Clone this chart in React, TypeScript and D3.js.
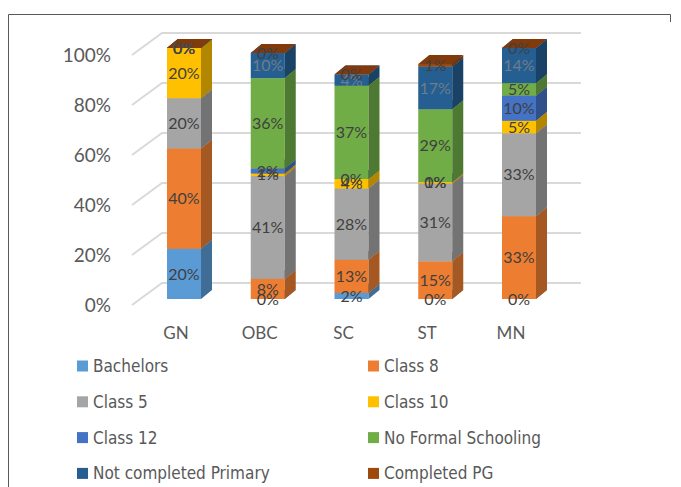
import React from "react";
import * as d3 from "d3";

const categories = ["GN", "OBC", "SC", "ST", "MN"];
const seriesNames = [
  "Bachelors",
  "Class 8",
  "Class 5",
  "Class 10",
  "Class 12",
  "No Formal Schooling",
  "Not completed Primary",
  "Completed PG",
];
const bachelors = [20, 0, 2.4, 0, 0];
const class8 = [40, 8, 13.2, 15, 33];
const class5 = [20, 41, 28.4, 31, 33];
const class10 = [20, 1, 3.8, 0.6, 5];
const class12 = [0, 2, 0, 0, 10];
const noFormal = [0, 36, 37.2, 29, 5];
const notCompleted = [0, 10, 4.4, 17, 14];
const completedPG = [0, 0, 0, 1, 0];
const labels = [
  ["20%", "0%", "2%", "0%", "0%"],
  ["40%", "8%", "13%", "15%", "33%"],
  ["20%", "41%", "28%", "31%", "33%"],
  ["20%", "1%", "4%", "1%", "5%"],
  ["0%", "2%", "0%", "0%", "10%"],
  ["0%", "36%", "37%", "29%", "5%"],
  ["0%", "10%", "4%", "17%", "14%"],
  ["0%", "0%", "0%", "1%", "0%"],
];
const yTicks = [0, 20, 40, 60, 80, 100];

const allSeries = [bachelors, class8, class5, class10, class12, noFormal, notCompleted, completedPG];
const colors = ["#5B9BD5", "#ED7D31", "#A5A5A5", "#FFC000", "#4472C4", "#70AD47", "#255E91", "#9E480E"];

const W = 681;
const H = 487;
const DX = 11; // bar depth offset
const DY = 9;
const BAR_W = 34;
const FONT = "Lato, 'Open Sans', sans-serif";
const LEGEND_FONT = "'Liberation Sans Narrow', 'DejaVu Sans Condensed', 'Noto Sans', sans-serif";

export default function App() {
  const x = d3.scalePoint<string>().domain(categories).range([184, 519]);
  const yBar = d3.scaleLinear().domain([0, 100]).range([299, 48]);
  const yFront = d3.scaleLinear().domain([0, 100]).range([305, 55]);
  const yWall = d3.scaleLinear().domain([0, 100]).range([283, 33]);

  // stack bottom-to-top per category
  const stacked = categories.map((c, ci) => {
    let acc = 0;
    return allSeries.map((s, si) => {
      const y0 = acc;
      acc += s[ci];
      return { si, y0, y1: acc, label: labels[si][ci] };
    });
  });

  return (
    <svg width={W} height={H} style={{ position: "fixed", left: 0, top: 0, background: "#fff" }}>
      <rect x={0} y={0} width={W} height={H} fill="#fff" />
      {/* frame */}
      <path d={`M8.5,${H} V14.5 H670.5 V22`} fill="none" stroke="#595959" strokeWidth={1} />

      {/* gridlines on back wall */}
      {yTicks.map((t) => (
        <path
          key={t}
          d={`M132,${yFront(t)} L162,${yWall(t)} H581`}
          fill="none"
          stroke="#d9d9d9"
          strokeWidth={2}
        />
      ))}

      {/* y labels */}
      {yTicks.map((t) => (
        <text
          key={t}
          x={111}
          y={yFront(t)}
          dy="0.35em"
          textAnchor="end"
          fontFamily={FONT}
          fontSize={19}
          fill="#595959"
        >
          {t}%
        </text>
      ))}

      {/* bars */}
      {stacked.map((segs, ci) => {
        const cx = x(categories[ci])!;
        const x0 = cx - BAR_W / 2;
        const x1 = cx + BAR_W / 2;
        return (
          <g key={ci}>
            {segs.map((sg) => {
              const yt = yBar(sg.y1);
              const yb = yBar(sg.y0);
              const col = d3.color(colors[sg.si])!;
              return (
                <g key={sg.si}>
                  <rect x={x0} y={yt} width={BAR_W} height={yb - yt} fill={colors[sg.si]} />
                  <path
                    d={`M${x1},${yt} L${x1 + DX},${yt - DY} L${x1 + DX},${yb - DY} L${x1},${yb} Z`}
                    fill={col.darker(1).toString()}
                  />
                  <path
                    d={`M${x0},${yt} L${x0 + DX},${yt - DY} L${x1 + DX},${yt - DY} L${x1},${yt} Z`}
                    fill={col.darker(0.6).toString()}
                  />
                </g>
              );
            })}
          </g>
        );
      })}

      {/* data labels */}
      {stacked.map((segs, ci) =>
        segs.map((sg) => (
          <text
            key={`${ci}-${sg.si}`}
            x={x(categories[ci])!}
            y={(yBar(sg.y0) + yBar(sg.y1)) / 2}
            dy="0.35em"
            textAnchor="middle"
            fontFamily={FONT}
            fontSize={16}
            fill={sg.si === 6 ? "#6f7c8a" : "#404040"}
          >
            {sg.label}
          </text>
        ))
      )}

      {/* category labels */}
      {categories.map((c) => (
        <text
          key={c}
          x={x(c)! - 8}
          y={333}
          dy="0.35em"
          textAnchor="middle"
          fontFamily={FONT}
          fontSize={17}
          fill="#595959"
        >
          {c}
        </text>
      ))}

      {/* legend */}
      {seriesNames.map((name, i) => {
        const col = i % 2;
        const row = Math.floor(i / 2);
        const lx = col === 0 ? 77 : 368;
        const ly = 366 + row * 35.8;
        return (
          <g key={name}>
            <rect x={lx} y={ly - 5.5} width={11} height={11} fill={colors[i]} />
            <text
              x={lx + 16}
              y={ly}
              dy="0.35em"
              fontFamily={LEGEND_FONT}
              fontSize={17}
              fill="#595959"
            >
              {name}
            </text>
          </g>
        );
      })}
    </svg>
  );
}
